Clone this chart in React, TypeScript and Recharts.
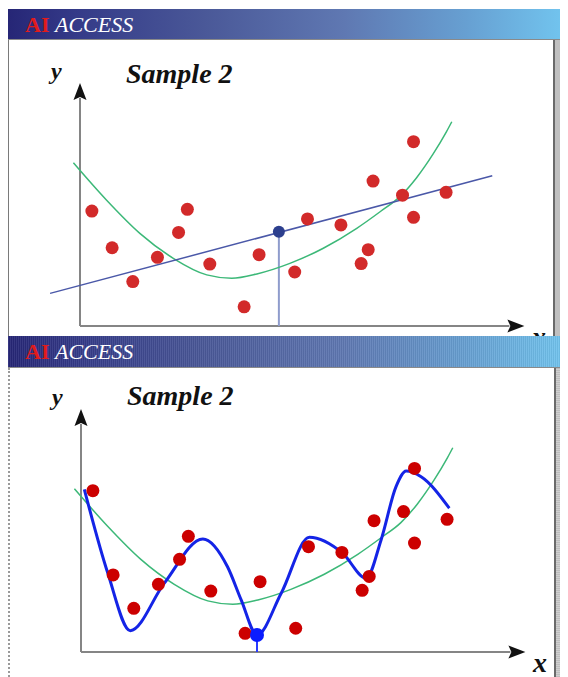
import React from 'react';
import { ComposedChart, XAxis, YAxis, Line, Scatter, ReferenceLine } from 'recharts';

// x positions of the sample points (same in both panels)
const sampleX = [2.7, 7.3, 12, 17.6, 22.4, 24.4, 29.5, 37.3, 40.7, 48.8, 51.7, 59.3, 63.9, 65.5, 66.6, 73.3, 75.8, 75.8, 83.2];
// y values, upper panel
const topY = [47.9, 32.6, 18.5, 28.6, 39.0, 48.6, 25.8, 8.0, 29.7, 22.5, 44.6, 42.1, 26.0, 31.8, 60.4, 54.5, 76.8, 45.3, 55.7];
// y values, lower panel
const bottomY = [67.2, 32.1, 18.2, 28.2, 38.6, 48.2, 25.4, 7.8, 29.3, 9.9, 43.9, 41.5, 25.7, 31.5, 54.7, 58.5, 76.5, 45.4, 55.3];

// straight line fit (upper panel)
const linearFit = [
  { x: -6.8, y: 13.6 },
  { x: 93.7, y: 62.6 },
];

// smooth quadratic-like fit (both panels)
const greenFit = [
  { x: -1.5, y: 68 }, { x: 6, y: 52.5 }, { x: 13.6, y: 38.6 }, { x: 21.2, y: 28.2 },
  { x: 28.8, y: 21.3 }, { x: 34.5, y: 19.9 }, { x: 40.2, y: 21.7 }, { x: 47.7, y: 26.1 },
  { x: 55.3, y: 32.4 }, { x: 62.9, y: 40.7 }, { x: 68.2, y: 47.6 }, { x: 72.7, y: 53.9 },
  { x: 76.5, y: 61.8 }, { x: 80.3, y: 71.8 }, { x: 83.3, y: 81 }, { x: 84.5, y: 85.1 },
];

// overfitted wiggly curve (lower panel)
const wigglyFit = [
  { x: 0.75, y: 67.8 }, { x: 6.1, y: 32.8 }, { x: 11.2, y: 8.9 }, { x: 18.9, y: 28.6 },
  { x: 27.7, y: 47.1 }, { x: 33.3, y: 35.5 }, { x: 36.4, y: 21.7 }, { x: 40, y: 7.1 },
  { x: 45.5, y: 24.5 }, { x: 51.9, y: 47.8 }, { x: 59.5, y: 41.1 }, { x: 64.8, y: 30.7 },
  { x: 68.2, y: 46.7 }, { x: 71.6, y: 68.9 }, { x: 73.9, y: 75.4 }, { x: 77.3, y: 73.0 },
  { x: 83.7, y: 59.9 },
];

const topQuery = { x: 45.2, y: 39.3 };
const bottomQuery = { x: 40, y: 7.1 };
const axisEnd = { x: 101, y: 101.3 };

const serif = '"Liberation Serif", "Times New Roman", serif';

const toPoints = (ys: number[]) => sampleX.map((x, i) => ({ x, y: ys[i] }));

const arrowShape = (props: any) => {
  const { x1, y1, x2, y2 } = props;
  const ang = Math.atan2(y2 - y1, x2 - x1);
  const len = 17;
  const half = 6.5;
  const bx = x2 - len * Math.cos(ang);
  const by = y2 - len * Math.sin(ang);
  const px = -Math.sin(ang) * half;
  const py = Math.cos(ang) * half;
  return (
    <g>
      <line x1={x1} y1={y1} x2={bx + 2 * Math.cos(ang)} y2={by + 2 * Math.sin(ang)} stroke="#858585" strokeWidth={2} />
      <polygon points={`${x2},${y2} ${bx + px},${by + py} ${bx + 3 * Math.cos(ang)},${by + 3 * Math.sin(ang)} ${bx - px},${by - py}`} fill="#111" />
    </g>
  );
};

const dotShape = (r: number, fill: string) => (props: any) => (
  <circle cx={props.cx} cy={props.cy} r={r} fill={fill} />
);

const Header = ({ top, dithered }: { top: number; dithered?: boolean }) => (
  <div
    style={{
      position: 'absolute',
      left: 0,
      top,
      width: 560,
      height: top === 1 ? 31 : 32,
      background: dithered
        ? 'repeating-linear-gradient(90deg, rgba(255,255,255,0.07) 0 1px, rgba(0,0,0,0.05) 1px 2px), linear-gradient(to right, #262676 0%, #343a88 12%, #4a5898 35%, #5f78b2 60%, #67a0d2 82%, #72c6f0 100%)'
        : 'linear-gradient(to right, #262676 0%, #343a88 12%, #4a5898 35%, #5f78b2 60%, #67a0d2 82%, #72c6f0 100%)',
      borderBottom: '1px solid #8a8a8a',
      boxSizing: 'border-box',
      zIndex: 2,
    }}
  >
    <div style={{ position: 'absolute', left: 17, top: 5, fontFamily: serif, fontSize: 22, lineHeight: 1, whiteSpace: 'nowrap' }}>
      <span style={{ color: '#e01c1c', fontWeight: 'bold' }}>AI</span>{' '}
      <span style={{ color: '#ffffff', fontStyle: 'italic' }}>ACCESS</span>
    </div>
  </div>
);

interface PlotProps {
  top: number;
  height: number;
  marginTop: number;
  marginBottom: number;
  titleShift: number;
  dots: { x: number; y: number }[];
  dotColor: string;
  query: { x: number; y: number };
  queryColor: string;
  queryR: number;
  stemColor: string;
  fit: { x: number; y: number }[];
  fitColor: string;
  fitWidth: number;
  fitType: 'linear' | 'monotone';
  dithered?: boolean;
}

const Plot = (p: PlotProps) => (
  <div
    style={{
      position: 'absolute',
      left: 0,
      top: p.top,
      width: 560,
      height: p.height,
      background: '#fff',
      boxSizing: 'border-box',
      borderLeft: p.dithered ? '2px dotted #9a9a9a' : '1px solid #7a7a7a',
      zIndex: 1,
    }}
  >
    <div
      style={{
        position: 'absolute',
        left: 544,
        top: 0,
        width: 15,
        height: p.height,
        borderLeft: '2px solid #6a6a6a',
        background: p.dithered
          ? 'repeating-linear-gradient(0deg, #bdbdbd 0 1px, #d0d0d0 1px 2px)'
          : '#c0c0c0',
      }}
    />
    <div style={{ position: 'absolute', left: -1 }}>
      <ComposedChart
        width={545}
        height={p.height}
        margin={{ top: p.marginTop, right: 11, bottom: p.marginBottom, left: 6 }}
      >
        <XAxis type="number" dataKey="x" domain={[-15, 105]} hide />
        <YAxis type="number" dataKey="y" domain={[-4, 110]} hide />
        <ReferenceLine segment={[{ x: 0, y: 0 }, { x: axisEnd.x, y: 0 }]} shape={arrowShape} />
        <ReferenceLine segment={[{ x: 0, y: 0 }, { x: 0, y: axisEnd.y }]} shape={arrowShape} />
        <ReferenceLine
          segment={[{ x: p.query.x, y: p.query.y }, { x: p.query.x, y: 0 }]}
          stroke={p.stemColor}
          strokeWidth={2}
        />
        <Line data={greenFit} dataKey="y" type="monotone" stroke="#3cb878" strokeWidth={1.5} dot={false} isAnimationActive={false} />
        <Line data={p.fit} dataKey="y" type={p.fitType} stroke={p.fitColor} strokeWidth={p.fitWidth} dot={false} isAnimationActive={false} />
        <Scatter data={p.dots} shape={dotShape(6.5, p.dotColor)} isAnimationActive={false} />
        <Scatter data={[p.query]} shape={dotShape(p.queryR, p.queryColor)} isAnimationActive={false} />
      </ComposedChart>
    </div>
    <div style={{ position: 'absolute', left: 42, top: p.marginTop - 3, fontFamily: serif, fontSize: 24, fontWeight: 'bold', fontStyle: 'italic', lineHeight: 1, color: '#111' }}>
      y
    </div>
    <div style={{ position: 'absolute', left: 117, top: p.marginTop - 2.5 + p.titleShift, fontFamily: serif, fontSize: 28, fontWeight: 'bold', fontStyle: 'italic', lineHeight: 1, color: '#111', whiteSpace: 'nowrap' }}>
      Sample 2
    </div>
    <div style={{ position: 'absolute', left: 523, top: p.height - (p.dithered ? 28.5 : 13.5), fontFamily: serif, fontSize: 28, fontWeight: 'bold', fontStyle: 'italic', lineHeight: 1, color: '#111' }}>
      x
    </div>
  </div>
);

export default function App() {
  return (
    <div style={{ position: 'relative', width: 560, height: 669, overflow: 'hidden' }}>
      <Header top={1} />
      <Plot
        top={32}
        height={296}
        marginTop={22}
        marginBottom={0.4}
        titleShift={0}
        dots={toPoints(topY)}
        dotColor="#d22a2a"
        query={topQuery}
        queryColor="#2c3f8e"
        queryR={6}
        stemColor="#8f9ccc"
        fit={linearFit}
        fitColor="#4a58a8"
        fitWidth={1.5}
        fitType="linear"
      />
      <Header top={328} dithered />
      <Plot
        top={360}
        height={309}
        marginTop={20}
        marginBottom={15.4}
        titleShift={-4}
        dots={toPoints(bottomY)}
        dotColor="#cc0000"
        query={bottomQuery}
        queryColor="#0a1cff"
        queryR={7}
        stemColor="#2a3cff"
        fit={wigglyFit}
        fitColor="#1424e6"
        fitWidth={3}
        fitType="monotone"
        dithered
      />
    </div>
  );
}
